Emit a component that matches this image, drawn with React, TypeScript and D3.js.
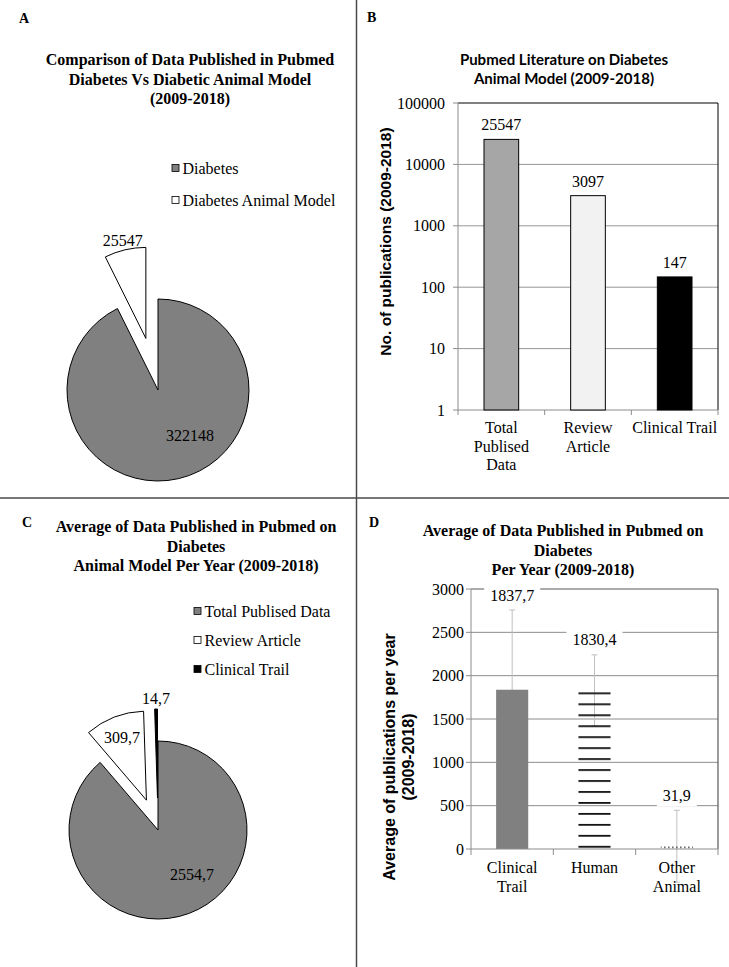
import React from 'react';
import * as d3 from 'd3';

// ---------- DATA ----------
const pieALabels = ['Diabetes', 'Diabetes Animal Model'];
const pieAValues = [322148, 25547];

const barBCategories = ['Total Publised Data', 'Review Article', 'Clinical Trail'];
const barBLabelLines = [['Total', 'Publised', 'Data'], ['Review', 'Article'], ['Clinical Trail']];
const barBValues = [25547, 3097, 147];
const barBTicks = [1, 10, 100, 1000, 10000, 100000];

const pieCLabels = ['Total Publised Data', 'Review Article', 'Clinical Trail'];
const pieCValues = [2554.7, 309.7, 14.7];

const barDCategories = ['Clinical Trail', 'Human', 'Other Animal'];
const barDLabelLines = [['Clinical', 'Trail'], ['Human'], ['Other', 'Animal']];
const barDValues = [1837.7, 1830.4, 31.9];
const barDErrors = [920, 410, 415];
const barDTicks = [0, 500, 1000, 1500, 2000, 2500, 3000];

// ---------- STYLE ----------
const SERIF = '"Liberation Serif", "Times New Roman", serif';
const SANS = '"Liberation Sans", Arial, sans-serif';
const CAL = 'Lato, "Open Sans", sans-serif';
const TITLE_SIZE = 16;
const commaFmt = d3.formatLocale({ decimal: ',', thousands: '.', grouping: [3], currency: ['', ''] }).format('.1f');

type LabelSpec = { mode: 'in' | 'out'; frac?: number; shift?: number; gap?: number };

function Pie(props: {
  cx: number; cy: number; r: number; values: number[]; fills: string[]; explode: number[];
  labels: string[]; labelSpecs: LabelSpec[];
}) {
  const { cx, cy, r, values, fills, explode, labels, labelSpecs } = props;
  const arcs = d3.pie<number>().sort(null).value((d) => d)(values);
  const arcGen = d3.arc<d3.PieArcDatum<number>>().innerRadius(0).outerRadius(r);
  return (
    <g>
      {arcs.map((a, i) => {
        const mid = (a.startAngle + a.endAngle) / 2;
        const ox = Math.sin(mid) * explode[i];
        const oy = -Math.cos(mid) * explode[i];
        return (
          <path key={i} d={arcGen(a) || ''} transform={`translate(${cx + ox},${cy + oy})`}
            fill={fills[i]} stroke="#000" strokeWidth={1} strokeLinejoin="miter" />
        );
      })}
      {arcs.map((a, i) => {
        const spec = labelSpecs[i];
        const mid = (a.startAngle + a.endAngle) / 2;
        const ox = Math.sin(mid) * explode[i];
        const oy = -Math.cos(mid) * explode[i];
        let dist: number;
        let ang = mid;
        if (spec.mode === 'in') {
          dist = r * (spec.frac || 0.6);
          ang = mid + ((spec.shift || 0) * Math.PI) / 180;
        } else {
          dist = r + (spec.gap || 12);
        }
        const lx = cx + ox + Math.sin(ang) * dist;
        const ly = cy + oy - Math.cos(ang) * dist;
        return (
          <text key={'l' + i} x={lx} y={ly} dy="0.35em" textAnchor="middle" fontFamily={SERIF} fontSize={16} fill="#000">
            {labels[i]}
          </text>
        );
      })}
    </g>
  );
}

function Legend(props: { x: number; y: number; step: number; labels: string[]; fills: string[] }) {
  const { x, y, step, labels, fills } = props;
  return (
    <g>
      {labels.map((l, i) => (
        <g key={i} transform={`translate(${x},${y + i * step})`}>
          <rect x={0} y={-3.5} width={7} height={7} fill={fills[i]} stroke="#000" strokeWidth={0.8} />
          <text x={10.5} y={0} dy="0.35em" fontFamily={SERIF} fontSize={16} fill="#000">{l}</text>
        </g>
      ))}
    </g>
  );
}

function PanelB() {
  const left = 458, right = 718, top = 103, bottom = 410;
  const x = d3.scaleBand<string>().domain(barBCategories).range([left, right]).paddingInner(0.6).paddingOuter(0.3);
  const y = d3.scaleLog().domain([1, 100000]).range([bottom, top]);
  const fills = ['#a6a6a6', '#f2f2f2', '#000000'];
  const step = x.step();
  const bounds = barBCategories.map((c) => (x(c) as number) - (step - x.bandwidth()) / 2).concat([right]);
  return (
    <g>
      <text x={367} y={22} fontFamily={SERIF} fontWeight="bold" fontSize={14}>B</text>
      <text x={564} y={65} textAnchor="middle" fontFamily={CAL} fontWeight="bold" fontSize={15}>Pubmed Literature on Diabetes</text>
      <text x={564} y={84} textAnchor="middle" fontFamily={CAL} fontWeight="bold" fontSize={15}>Animal Model (2009-2018)</text>
      {barBTicks.slice(1, -1).map((t) => (
        <line key={t} x1={left} x2={right} y1={y(t)} y2={y(t)} stroke="#979797" strokeWidth={1} />
      ))}
      <line x1={left} x2={right} y1={top} y2={top} stroke="#000" strokeWidth={1} />
      <line x1={right} x2={right} y1={top} y2={bottom} stroke="#000" strokeWidth={1} />
      <line x1={left} x2={left} y1={top} y2={bottom} stroke="#8c8c8c" strokeWidth={1} />
      <line x1={left} x2={right} y1={bottom} y2={bottom} stroke="#8c8c8c" strokeWidth={1} />
      {barBTicks.map((t) => (
        <g key={'t' + t}>
          <line x1={left - 5} x2={left} y1={y(t)} y2={y(t)} stroke="#8c8c8c" />
          <text x={445} y={y(t)} dy="0.35em" textAnchor="end" fontFamily={SERIF} fontSize={16}>{t}</text>
        </g>
      ))}
      {bounds.map((b, i) => (
        <line key={'b' + i} x1={b} x2={b} y1={bottom} y2={bottom + 5} stroke="#8c8c8c" />
      ))}
      {barBCategories.map((c, i) => (
        <g key={c}>
          <rect x={x(c)} y={y(barBValues[i])} width={x.bandwidth()} height={bottom - y(barBValues[i])}
            fill={fills[i]} stroke="#000" strokeWidth={1} />
          <text x={(x(c) as number) + x.bandwidth() / 2} y={y(barBValues[i]) - 9} textAnchor="middle"
            fontFamily={SERIF} fontSize={16}>{barBValues[i]}</text>
          {barBLabelLines[i].map((ln, j) => (
            <text key={j} x={(x(c) as number) + x.bandwidth() / 2} y={433 + j * 18.5} textAnchor="middle"
              fontFamily={SERIF} fontSize={16}>{ln}</text>
          ))}
        </g>
      ))}
      <text transform={`translate(386,${(top + bottom) / 2 - 15}) rotate(-90)`} textAnchor="middle" dy="0.35em"
        fontFamily={SANS} fontWeight="bold" fontSize={15.5}>No. of publications (2009-2018)</text>
    </g>
  );
}

function PanelD() {
  const left = 471, right = 718, top = 589, bottom = 849;
  const x = d3.scaleBand<string>().domain(barDCategories).range([left, right]).paddingInner(0.61).paddingOuter(0.305);
  const y = d3.scaleLinear().domain([0, 3000]).range([bottom, top]);
  const step = x.step();
  const bounds = barDCategories.map((c) => (x(c) as number) - (step - x.bandwidth()) / 2).concat([right]);
  const period = 10.96;
  const fills = ['#808080', 'url(#hatchH)', 'url(#dotsD)'];
  const textW = (s: string) => s.split('').reduce((w, ch) => w + (ch === ',' ? 4 : 8), 0);
  return (
    <g>
      <defs>
        <pattern id="hatchH" patternUnits="userSpaceOnUse" width={10} height={period} y={y(0) - 3.15}>
          <rect x={0} y={0} width={10} height={1.8} fill="#111" />
        </pattern>
        <pattern id="dotsD" patternUnits="userSpaceOnUse" width={4} height={4} y={y(0) - 2.5}>
          <rect x={0} y={0} width={1.6} height={1.4} fill="#333" />
        </pattern>
      </defs>
      <text x={369} y={527} fontFamily={SERIF} fontWeight="bold" fontSize={14}>D</text>
      {['Average of Data Published in Pubmed on', 'Diabetes', 'Per Year (2009-2018)'].map((t, i) => (
        <text key={i} x={563} y={536 + i * 19.5} textAnchor="middle" fontFamily={SERIF} fontWeight="bold" fontSize={TITLE_SIZE}>{t}</text>
      ))}
      {barDTicks.slice(1, -1).map((t) => (
        <line key={t} x1={left} x2={right} y1={y(t)} y2={y(t)} stroke="#8c8c8c" strokeWidth={1} />
      ))}
      <line x1={left} x2={right} y1={top} y2={top} stroke="#595959" strokeWidth={1.2} />
      <line x1={right} x2={right} y1={top} y2={bottom} stroke="#595959" strokeWidth={1.2} />
      <line x1={left} x2={left} y1={top} y2={bottom} stroke="#8c8c8c" strokeWidth={1} />
      {barDTicks.map((t) => (
        <g key={'t' + t}>
          <line x1={left - 5} x2={left} y1={y(t)} y2={y(t)} stroke="#8c8c8c" />
          <text x={464} y={y(t)} dy="0.35em" textAnchor="end" fontFamily={SERIF} fontSize={16}>{t}</text>
        </g>
      ))}
      {barDCategories.map((c, i) => {
        const cx = (x(c) as number) + x.bandwidth() / 2;
        const hi = y(barDValues[i] + barDErrors[i]);
        const lo = y(barDValues[i] - barDErrors[i]);
        return (
          <g key={'e' + c} stroke="#c0c0c0" strokeWidth={1}>
            <line x1={cx} x2={cx} y1={hi} y2={lo} />
            <line x1={cx - 3} x2={cx + 3} y1={hi} y2={hi} />
            <line x1={cx - 3} x2={cx + 3} y1={lo} y2={lo} />
          </g>
        );
      })}
      {barDCategories.map((c, i) => (
        <rect key={'r' + c} x={x(c)} y={y(barDValues[i])} width={x.bandwidth()} height={bottom - y(barDValues[i])} fill={fills[i]} />
      ))}
      <line x1={left} x2={right} y1={bottom} y2={bottom} stroke="#8c8c8c" strokeWidth={1} />
      {bounds.map((b, i) => (
        <line key={'b' + i} x1={b} x2={b} y1={bottom} y2={bottom + 6} stroke="#8c8c8c" />
      ))}
      {barDCategories.map((c, i) => {
        const cx = (x(c) as number) + x.bandwidth() / 2;
        const s = commaFmt(barDValues[i]);
        const w = textW(s) + 12;
        const ly = y(barDValues[i] + barDErrors[i]) - 15;
        return (
          <g key={'v' + c}>
            <rect x={cx - w / 2} y={ly - 11} width={w} height={22} fill="#fff" />
            <text x={cx} y={ly} dy="0.35em" textAnchor="middle" fontFamily={SERIF} fontSize={16}>{s}</text>
          </g>
        );
      })}
      {barDCategories.map((c, i) =>
        barDLabelLines[i].map((ln, j) => (
          <text key={c + j} x={(x(c) as number) + x.bandwidth() / 2} y={873 + j * 19} textAnchor="middle"
            fontFamily={SERIF} fontSize={16}>{ln}</text>
        ))
      )}
      <text transform={`translate(389,757) rotate(-90)`} textAnchor="middle" fontFamily={SANS} fontWeight="bold" fontSize={16}>
        <tspan x={0} dy="0.35em">Average of publications per year</tspan>
        <tspan x={0} dy="19">(2009-2018)</tspan>
      </text>
    </g>
  );
}

export default function App() {
  return (
    <svg width={729} height={967} style={{ position: 'absolute', left: 0, top: 0, display: 'block', background: '#fff' }}>
      <rect x={0} y={0} width={729} height={967} fill="#fff" />
      {/* Panel A */}
      <text x={19} y={23} fontFamily={SERIF} fontWeight="bold" fontSize={14}>A</text>
      {['Comparison of Data Published in Pubmed', 'Diabetes Vs Diabetic Animal Model', '(2009-2018)'].map((t, i) => (
        <text key={i} x={190} y={65 + i * 19.5} textAnchor="middle" fontFamily={SERIF} fontWeight="bold" fontSize={TITLE_SIZE}>{t}</text>
      ))}
      <Legend x={172} y={168} step={32} labels={pieALabels} fills={['#808080', '#ffffff']} />
      <Pie cx={158} cy={390} r={91} values={pieAValues} fills={['#808080', '#ffffff']} explode={[0, 53]}
        labels={pieAValues.map(String)}
        labelSpecs={[{ mode: 'in', frac: 0.61, shift: -22 }, { mode: 'out', gap: 10 }]} />

      <PanelB />

      {/* Panel C */}
      <text x={22} y={527} fontFamily={SERIF} fontWeight="bold" fontSize={14}>C</text>
      {['Average of Data Published in Pubmed on', 'Diabetes', 'Animal Model Per Year (2009-2018)'].map((t, i) => (
        <text key={i} x={196} y={532 + i * 19.5} textAnchor="middle" fontFamily={SERIF} fontWeight="bold" fontSize={TITLE_SIZE}>{t}</text>
      ))}
      <Legend x={194} y={611} step={29} labels={pieCLabels} fills={['#808080', '#ffffff', '#000000']} />
      <Pie cx={158} cy={830} r={89} values={pieCValues} fills={['#808080', '#ffffff', '#000000']} explode={[0, 32, 32]}
        labels={pieCValues.map(commaFmt)}
        labelSpecs={[{ mode: 'in', frac: 0.63, shift: -17 }, { mode: 'in', frac: 0.76 }, { mode: 'out', gap: 11 }]} />

      <PanelD />

      {/* dividers */}
      <line x1={356.5} x2={356.5} y1={0} y2={967} stroke="#4a4a4a" strokeWidth={1.5} />
      <line x1={0} x2={729} y1={498} y2={498} stroke="#4a4a4a" strokeWidth={1.5} />
    </svg>
  );
}
